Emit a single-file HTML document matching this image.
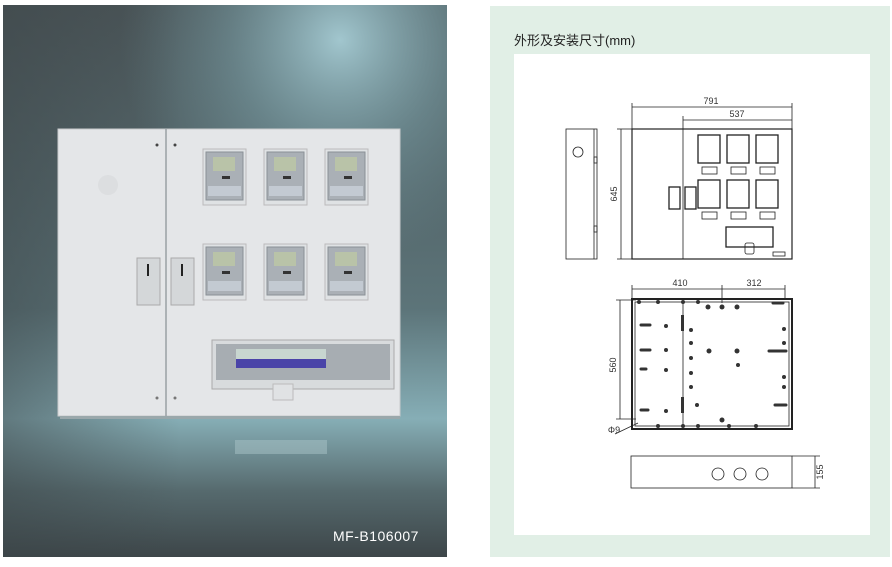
<!DOCTYPE html>
<html><head><meta charset="utf-8"><style>
body{margin:0;width:892px;height:562px;background:#fff;overflow:hidden;font-family:"Liberation Sans","Noto Sans CJK SC",sans-serif}
</style></head><body>
<svg width="892" height="562" viewBox="0 0 892 562" xmlns="http://www.w3.org/2000/svg" font-family="Liberation Sans, Noto Sans CJK SC, sans-serif">
<defs>
<linearGradient id="base" x1="0" y1="5" x2="0" y2="557" gradientUnits="userSpaceOnUse">
<stop offset="0" stop-color="#4a5457"/><stop offset="0.55" stop-color="#5c7479"/><stop offset="0.75" stop-color="#86aeb6"/><stop offset="0.88" stop-color="#566a6e"/><stop offset="1" stop-color="#3d4649"/></linearGradient>
<radialGradient id="glow" cx="340" cy="40" r="220" gradientUnits="userSpaceOnUse">
<stop offset="0" stop-color="#a6ccd4" stop-opacity="0.95"/><stop offset="0.5" stop-color="#7fa6ae" stop-opacity="0.5"/><stop offset="1" stop-color="#6f949c" stop-opacity="0"/></radialGradient>
<linearGradient id="side" x1="0" y1="0" x2="1" y2="0">
<stop offset="0" stop-color="#3c4548" stop-opacity="0.5"/><stop offset="0.4" stop-color="#3c4548" stop-opacity="0"/><stop offset="1" stop-color="#3c4548" stop-opacity="0"/></linearGradient>
</defs>
<!-- left photo -->
<rect x="3" y="5" width="444" height="552" fill="url(#base)"/>
<rect x="3" y="5" width="444" height="552" fill="url(#glow)"/>
<rect x="3" y="5" width="444" height="552" fill="url(#side)"/>
<rect x="58" y="129" width="342" height="287" fill="#e4e6e8" stroke="#c8cacc"/>
<rect x="60" y="416" width="340" height="3" fill="#9aa8ab"/>
<line x1="166" y1="129" x2="166" y2="416" stroke="#9aa0a4" stroke-width="1.5"/>
<circle cx="108" cy="185" r="10" fill="#dcdee0"/>
<circle cx="157" cy="145" r="1.5" fill="#444"/><circle cx="175" cy="145" r="1.5" fill="#444"/>
<circle cx="157" cy="398" r="1.5" fill="#777"/><circle cx="175" cy="398" r="1.5" fill="#777"/>
<rect x="137" y="258" width="23" height="47" fill="#d4d7d9" stroke="#aaa"/>
<rect x="171" y="258" width="23" height="47" fill="#d4d7d9" stroke="#aaa"/>
<line x1="148" y1="264" x2="148" y2="276" stroke="#222" stroke-width="2"/>
<line x1="182" y1="264" x2="182" y2="276" stroke="#222" stroke-width="2"/>
<g id="m">
<rect x="203" y="149" width="43" height="56" fill="#dfe2e4" stroke="#bbb"/>
<rect x="206" y="152" width="37" height="48" fill="#aab0b6" stroke="#8a9096"/>
<rect x="213" y="157" width="22" height="14" fill="#b9c3a8"/>
<rect x="208" y="186" width="33" height="10" fill="#c3cad2"/>
<rect x="222" y="176" width="8" height="3" fill="#333"/>
</g>
<use href="#m" x="61"/><use href="#m" x="122"/>
<use href="#m" y="95"/><use href="#m" x="61" y="95"/><use href="#m" x="122" y="95"/>
<rect x="212" y="340" width="182" height="49" fill="#d8dbdd" stroke="#aaa"/>
<rect x="216" y="344" width="174" height="36" fill="#a7adb2"/>
<rect x="236" y="349" width="90" height="10" fill="#c8d6d0"/>
<rect x="236" y="359" width="90" height="9" fill="#4a44a8"/>
<rect x="273" y="384" width="20" height="16" fill="#e0e2e4" stroke="#bbb"/>
<rect x="235" y="440" width="92" height="14" fill="#a9c3c8" opacity="0.5"/>
<text x="333" y="541" fill="#fff" font-size="14" letter-spacing="0.5">MF-B106007</text>
<!-- right panel -->
<rect x="490" y="6" width="400" height="551" fill="#e1efe6"/>
<text x="514" y="45" font-size="13" fill="#222">外形及安装尺寸(mm)</text>
<rect x="514" y="54" width="356" height="481" fill="#fff"/>
<g stroke="#222" fill="none" stroke-width="0.8">
<rect x="566" y="129" width="31" height="130"/>
<line x1="594" y1="129" x2="594" y2="259"/>
<circle cx="578" cy="152" r="5"/>
<rect x="594" y="157" width="3" height="6"/><rect x="594" y="226" width="3" height="6"/>
<rect x="632" y="129" width="160" height="130" stroke-width="1.2"/>
<line x1="683" y1="129" x2="683" y2="259"/>
<g stroke-width="1.3">
<rect x="698" y="135" width="22" height="28"/><rect x="727" y="135" width="22" height="28"/><rect x="756" y="135" width="22" height="28"/>
<rect x="698" y="180" width="22" height="28"/><rect x="727" y="180" width="22" height="28"/><rect x="756" y="180" width="22" height="28"/>
<rect x="669" y="187" width="11" height="22"/><rect x="685" y="187" width="11" height="22"/>
<rect x="726" y="227" width="47" height="20"/>
</g>
<rect x="702" y="167" width="15" height="7"/><rect x="731" y="167" width="15" height="7"/><rect x="760" y="167" width="15" height="7"/>
<rect x="702" y="212" width="15" height="7"/><rect x="731" y="212" width="15" height="7"/><rect x="760" y="212" width="15" height="7"/>
<rect x="745" y="243" width="9" height="11" rx="2"/>
<rect x="773" y="252" width="12" height="4"/>
<line x1="632" y1="107" x2="792" y2="107"/><line x1="683" y1="120" x2="792" y2="120"/>
<line x1="632" y1="103" x2="632" y2="129"/><line x1="792" y1="103" x2="792" y2="129"/><line x1="683" y1="116" x2="683" y2="129"/>
<line x1="621" y1="129" x2="621" y2="259"/><line x1="617" y1="129" x2="632" y2="129"/><line x1="617" y1="259" x2="632" y2="259"/>
<rect x="632" y="299" width="160" height="130" stroke-width="2"/>
<rect x="635" y="302" width="154" height="124" stroke-width="0.8"/>
<line x1="683" y1="302" x2="683" y2="426"/>
<line x1="632" y1="289" x2="785" y2="289"/><line x1="632" y1="285" x2="632" y2="299"/><line x1="722" y1="285" x2="722" y2="303"/><line x1="785" y1="285" x2="785" y2="299"/>
<line x1="620" y1="300" x2="620" y2="419"/><line x1="616" y1="300" x2="636" y2="300"/><line x1="616" y1="419" x2="636" y2="419"/>
<line x1="615" y1="434" x2="638" y2="423"/>
<rect x="631" y="456" width="161" height="32"/>
<circle cx="718" cy="474" r="6"/><circle cx="740" cy="474" r="6"/><circle cx="762" cy="474" r="6"/>
<line x1="815" y1="456" x2="815" y2="488"/><line x1="792" y1="456" x2="820" y2="456"/><line x1="792" y1="488" x2="820" y2="488"/>
</g>
<g fill="#333">
<rect x="681" y="315" width="3" height="16"/><rect x="681" y="397" width="3" height="16"/>
<circle cx="639" cy="302" r="2"/><circle cx="658" cy="302" r="2"/><circle cx="683" cy="302" r="2"/><circle cx="698" cy="302" r="2"/><circle cx="722" cy="307" r="2.5"/><circle cx="708" cy="307" r="2.5"/><circle cx="737" cy="307" r="2.5"/>
<circle cx="666" cy="326" r="2"/><circle cx="666" cy="350" r="2"/><circle cx="666" cy="411" r="2"/><circle cx="666" cy="370" r="2"/>
<circle cx="691" cy="330" r="2"/><circle cx="691" cy="343" r="2"/><circle cx="691" cy="358" r="2"/><circle cx="691" cy="373" r="2"/><circle cx="691" cy="387" r="2"/><circle cx="697" cy="405" r="2"/>
<circle cx="709" cy="351" r="2.5"/><circle cx="737" cy="351" r="2.5"/><circle cx="738" cy="365" r="2"/><circle cx="722" cy="420" r="2.5"/>
<circle cx="784" cy="329" r="2"/><circle cx="784" cy="343" r="2"/><circle cx="784" cy="377" r="2"/><circle cx="784" cy="387" r="2"/>
<circle cx="658" cy="426" r="2"/><circle cx="683" cy="426" r="2"/><circle cx="698" cy="426" r="2"/><circle cx="729" cy="426" r="2"/><circle cx="756" cy="426" r="2"/>
</g>
<g stroke="#333" stroke-width="3" stroke-linecap="round" fill="none">
<line x1="641" y1="325" x2="650" y2="325"/><line x1="641" y1="350" x2="650" y2="350"/><line x1="641" y1="369" x2="646" y2="369"/><line x1="641" y1="410" x2="648" y2="410"/>
<line x1="773" y1="303" x2="783" y2="303"/><line x1="769" y1="351" x2="786" y2="351"/><line x1="775" y1="405" x2="786" y2="405"/>
</g>
<g font-size="9" fill="#333" text-anchor="middle">
<text x="711" y="104">791</text><text x="737" y="117">537</text>
<text x="680" y="286">410</text><text x="754" y="286">312</text>
<text x="617" y="194" transform="rotate(-90 617 194)">645</text>
<text x="616" y="365" transform="rotate(-90 616 365)">560</text>
<text x="823" y="472" transform="rotate(-90 823 472)">155</text>
<text x="614" y="433">Φ9</text>
</g>
</svg>
</body></html>
